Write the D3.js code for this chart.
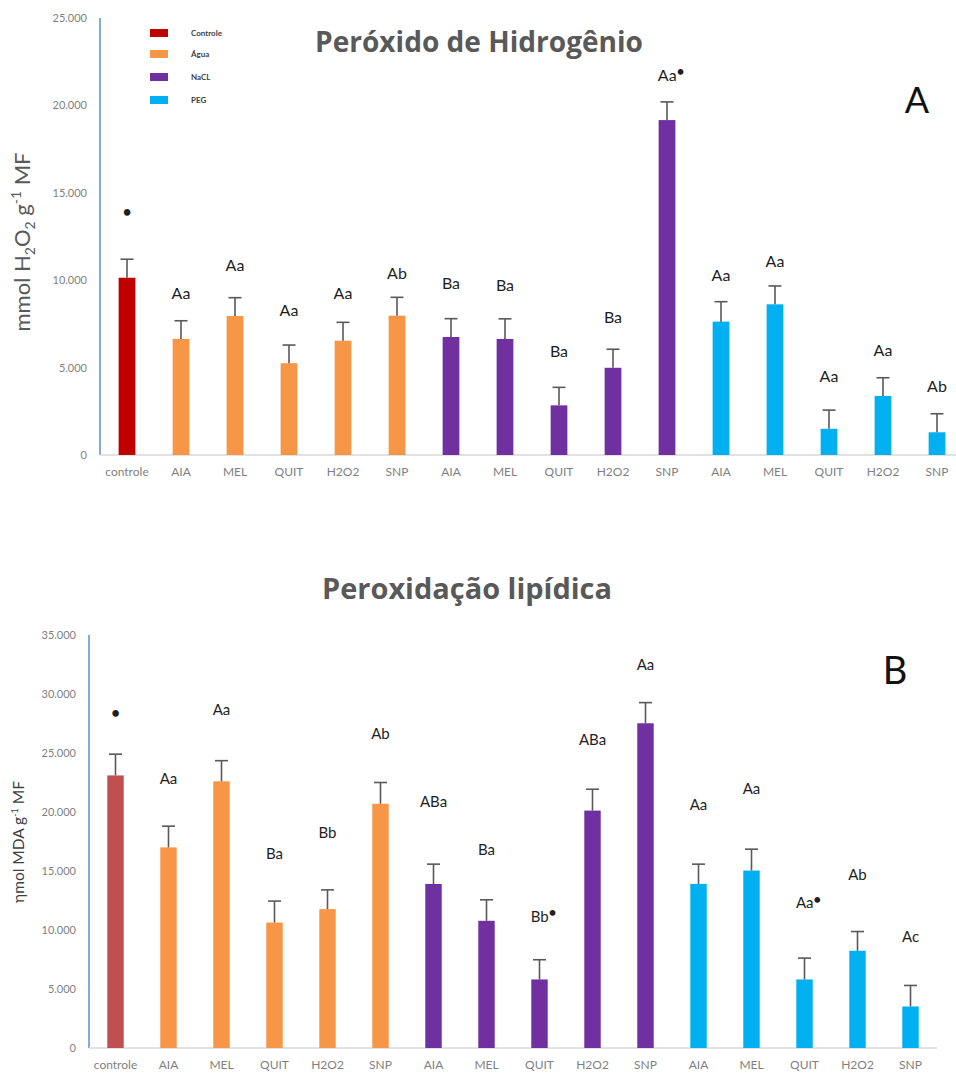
<!DOCTYPE html>
<html>
<head>
<meta charset="utf-8">
<script src="https://cdn.jsdelivr.net/npm/d3@7"></script>
<style>
  html, body { margin: 0; padding: 0; background: #fff; }
  svg { display: block; }
  text { font-family: Lato, "Open Sans", sans-serif; }
</style>
</head>
<body>
<svg id="chart" width="956" height="1077"></svg>
<script>
// ---------- DATA ----------
const categories = ["controle","AIA","MEL","QUIT","H2O2","SNP","AIA","MEL","QUIT","H2O2","SNP","AIA","MEL","QUIT","H2O2","SNP"];
const groups = ["Controle","Água","Água","Água","Água","Água","NaCL","NaCL","NaCL","NaCL","NaCL","PEG","PEG","PEG","PEG","PEG"];
const legendLabels = ["Controle","Água","NaCL","PEG"];

// Panel A – Peróxido de Hidrogênio
const h2o2Values = [10140, 6640, 7950, 5250, 6540, 7970, 6750, 6640, 2840, 4990, 19160, 7630, 8620, 1500, 3380, 1300];
const h2o2Errors = [1060, 1040, 1050, 1040, 1050, 1050, 1050, 1150, 1030, 1060, 1040, 1140, 1050, 1070, 1040, 1060];
const h2o2Letters = ["", "Aa","Aa","Aa","Aa","Ab","Ba","Ba","Ba","Ba","Aa","Aa","Aa","Aa","Aa","Ab"];
const h2o2Marks   = [true,false,false,false,false,false,false,false,false,false,true,false,false,false,false,false];
const h2o2LetterAt = [13600, 9270, 10830, 8300, 9250, 10400, 9820, 9730, 5910, 7850, 21740, 10300, 11060, 4480, 6000, 3950];
const h2o2Ticks = [0, 5000, 10000, 15000, 20000, 25000];

// Panel B – Peroxidação lipídica
const lipidValues = [23100, 17000, 22600, 10630, 11770, 20700, 13900, 10780, 5810, 20120, 27520, 13910, 15040, 5810, 8240, 3520];
const lipidErrors = [1800, 1800, 1750, 1820, 1630, 1800, 1680, 1780, 1670, 1810, 1750, 1670, 1810, 1810, 1630, 1780];
const lipidLetters = ["", "Aa","Aa","Ba","Bb","Ab","ABa","Ba","Bb","ABa","Aa","Aa","Aa","Aa","Ab","Ac"];
const lipidMarks   = [true,false,false,false,false,false,false,false,true,false,false,false,false,true,false,false];
const lipidLetterAt = [27940, 22860, 28700, 16500, 18200, 26600, 20880, 16790, 11140, 26100, 32500, 20600, 21930, 12280, 14670, 9400];
const lipidTicks = [0, 5000, 10000, 15000, 20000, 25000, 30000, 35000];

// ---------- DRAW ----------
const svg = d3.select("#chart");
const fmt = d3.formatLocale({decimal: ",", thousands: ".", grouping: [3], currency: ["", ""]}).format(",");
const idx = d3.range(categories.length);

function panel(cfg) {
  const g = svg.append("g");
  const x = d3.scaleBand().domain(idx).range([cfg.x0, cfg.x1]).paddingInner(0.69).paddingOuter(0.345);
  const y = d3.scaleLinear().domain([0, cfg.max]).range([cfg.y0, cfg.yTop]);

  // y axis (tick labels only + blue line)
  const ya = d3.axisLeft(y).tickValues(cfg.ticks).tickFormat(fmt).tickSize(0).tickPadding(13);
  const yg = g.append("g").attr("transform", `translate(${cfg.x0},0)`).call(ya);
  yg.select(".domain").remove();
  yg.selectAll("text").attr("fill", "#7f7f7f").attr("font-size", 11).style("font-family", "Lato, sans-serif");
  g.append("line").attr("x1", cfg.x0).attr("x2", cfg.x0).attr("y1", y(cfg.max)).attr("y2", y(0))
    .attr("stroke", "#5b8fd0").attr("stroke-width", 1.5);

  // x axis
  const xa = d3.axisBottom(x).tickFormat(i => categories[i]).tickSize(0).tickPadding(12);
  const xg = g.append("g").attr("transform", `translate(0,${cfg.y0})`).call(xa);
  xg.select(".domain").remove();
  xg.selectAll("text").attr("fill", "#7f7f7f").attr("font-size", 12).style("font-family", "Lato, sans-serif");
  g.append("line").attr("x1", cfg.x0).attr("x2", cfg.x1).attr("y1", cfg.y0).attr("y2", cfg.y0)
    .attr("stroke", "#d9d9d9").attr("stroke-width", 1.5);

  // bars
  g.selectAll("rect.bar").data(idx).join("rect").attr("class", "bar")
    .attr("x", i => x(i)).attr("width", x.bandwidth())
    .attr("y", i => y(cfg.values[i])).attr("height", i => y(0) - y(cfg.values[i]))
    .attr("fill", i => cfg.colors[groups[i]]);

  // error bars
  const cap = 6.5;
  const eb = g.selectAll("g.err").data(idx).join("g").attr("class", "err")
    .attr("stroke", "#595959").attr("stroke-width", 1.6);
  eb.append("line")
    .attr("x1", i => x(i) + x.bandwidth() / 2).attr("x2", i => x(i) + x.bandwidth() / 2)
    .attr("y1", i => y(cfg.values[i])).attr("y2", i => y(cfg.values[i] + cfg.errors[i]));
  eb.append("line")
    .attr("x1", i => x(i) + x.bandwidth() / 2 - cap).attr("x2", i => x(i) + x.bandwidth() / 2 + cap)
    .attr("y1", i => y(cfg.values[i] + cfg.errors[i])).attr("y2", i => y(cfg.values[i] + cfg.errors[i]));

  // significance letters
  const lt = g.selectAll("text.lab").data(idx).join("text").attr("class", "lab")
    .attr("x", i => x(i) + x.bandwidth() / 2 + (cfg.letters[i] && cfg.marks[i] ? 4 : 0))
    .attr("y", i => y(cfg.letterAt[i])).attr("dy", "0.35em")
    .attr("text-anchor", "middle").attr("font-size", cfg.labelSize).attr("fill", "#1f1f1f");
  lt.append("tspan").text(i => cfg.letters[i]);
  lt.filter(i => cfg.marks[i]).append("tspan")
    .attr("dy", i => cfg.letters[i] ? "-0.35em" : "0")
    .attr("font-size", i => cfg.letters[i] ? 13 : 15).attr("font-weight", "bold")
    .text("•");

  return {x, y, g};
}

const colorsA = {"Controle": "#c00000", "Água": "#f79646", "NaCL": "#7030a0", "PEG": "#00b0f0"};
const colorsB = {"Controle": "#c0504d", "Água": "#f79646", "NaCL": "#7030a0", "PEG": "#00b0f0"};

panel({x0: 100, x1: 964, y0: 455, yTop: 18, max: 25000, ticks: h2o2Ticks,
  values: h2o2Values, errors: h2o2Errors, letters: h2o2Letters, marks: h2o2Marks, letterAt: h2o2LetterAt,
  colors: colorsA, labelSize: 16});

panel({x0: 89, x1: 937, y0: 1048, yTop: 635, max: 35000, ticks: lipidTicks,
  values: lipidValues, errors: lipidErrors, letters: lipidLetters, marks: lipidMarks, letterAt: lipidLetterAt,
  colors: colorsB, labelSize: 15});

// titles
svg.append("text").attr("x", 479).attr("y", 52).attr("text-anchor", "middle")
  .style("font-family", "'Open Sans', sans-serif")
  .attr("font-size", 29).attr("font-weight", "bold").attr("fill", "#595959")
  .attr("textLength", 328).attr("lengthAdjust", "spacingAndGlyphs")
  .text("Peróxido de Hidrogênio");
svg.append("text").attr("x", 467).attr("y", 599).attr("text-anchor", "middle")
  .style("font-family", "'Open Sans', sans-serif")
  .attr("font-size", 28).attr("font-weight", "bold").attr("fill", "#595959")
  .attr("textLength", 290).attr("lengthAdjust", "spacingAndGlyphs")
  .text("Peroxidação lipídica");

// panel letters
svg.append("text").attr("x", 917).attr("y", 113).attr("text-anchor", "middle")
  .attr("font-size", 36).attr("fill", "#111").text("A");
svg.append("text").attr("x", 895).attr("y", 684).attr("text-anchor", "middle")
  .attr("font-size", 38).attr("fill", "#111").text("B");

// y-axis titles
const ytA = svg.append("text").attr("transform", "translate(30,242) rotate(-90)")
  .attr("text-anchor", "middle").attr("font-size", 22).attr("fill", "#595959");
ytA.append("tspan").text("mmol H");
ytA.append("tspan").attr("font-size", 14).attr("dy", 5).text("2");
ytA.append("tspan").attr("dy", -5).text("O");
ytA.append("tspan").attr("font-size", 14).attr("dy", 5).text("2");
ytA.append("tspan").attr("dy", -5).text(" g");
ytA.append("tspan").attr("font-size", 14).attr("dy", -9).text("-1");
ytA.append("tspan").attr("dy", 9).text(" MF");

const ytB = svg.append("text").attr("transform", "translate(24,842) rotate(-90)")
  .attr("text-anchor", "middle").attr("font-size", 15.5).attr("fill", "#404040");
ytB.append("tspan").text("ηmol MDA g");
ytB.append("tspan").attr("font-size", 9).attr("dy", -6).text("-1");
ytB.append("tspan").attr("dy", 6).text(" MF");

// legend (panel A)
const legY = [33, 54, 77, 100];
const lg = svg.append("g");
lg.selectAll("rect").data(legendLabels).join("rect")
  .attr("x", 150).attr("y", (d, i) => legY[i] - 4).attr("width", 18).attr("height", 8)
  .attr("fill", d => colorsA[d]);
lg.selectAll("text").data(legendLabels).join("text")
  .attr("x", 191).attr("y", (d, i) => legY[i]).attr("dy", "0.35em")
  .attr("font-size", 8).attr("font-weight", "bold").attr("fill", "#404040")
  .text(d => d);
</script>
</body>
</html>
